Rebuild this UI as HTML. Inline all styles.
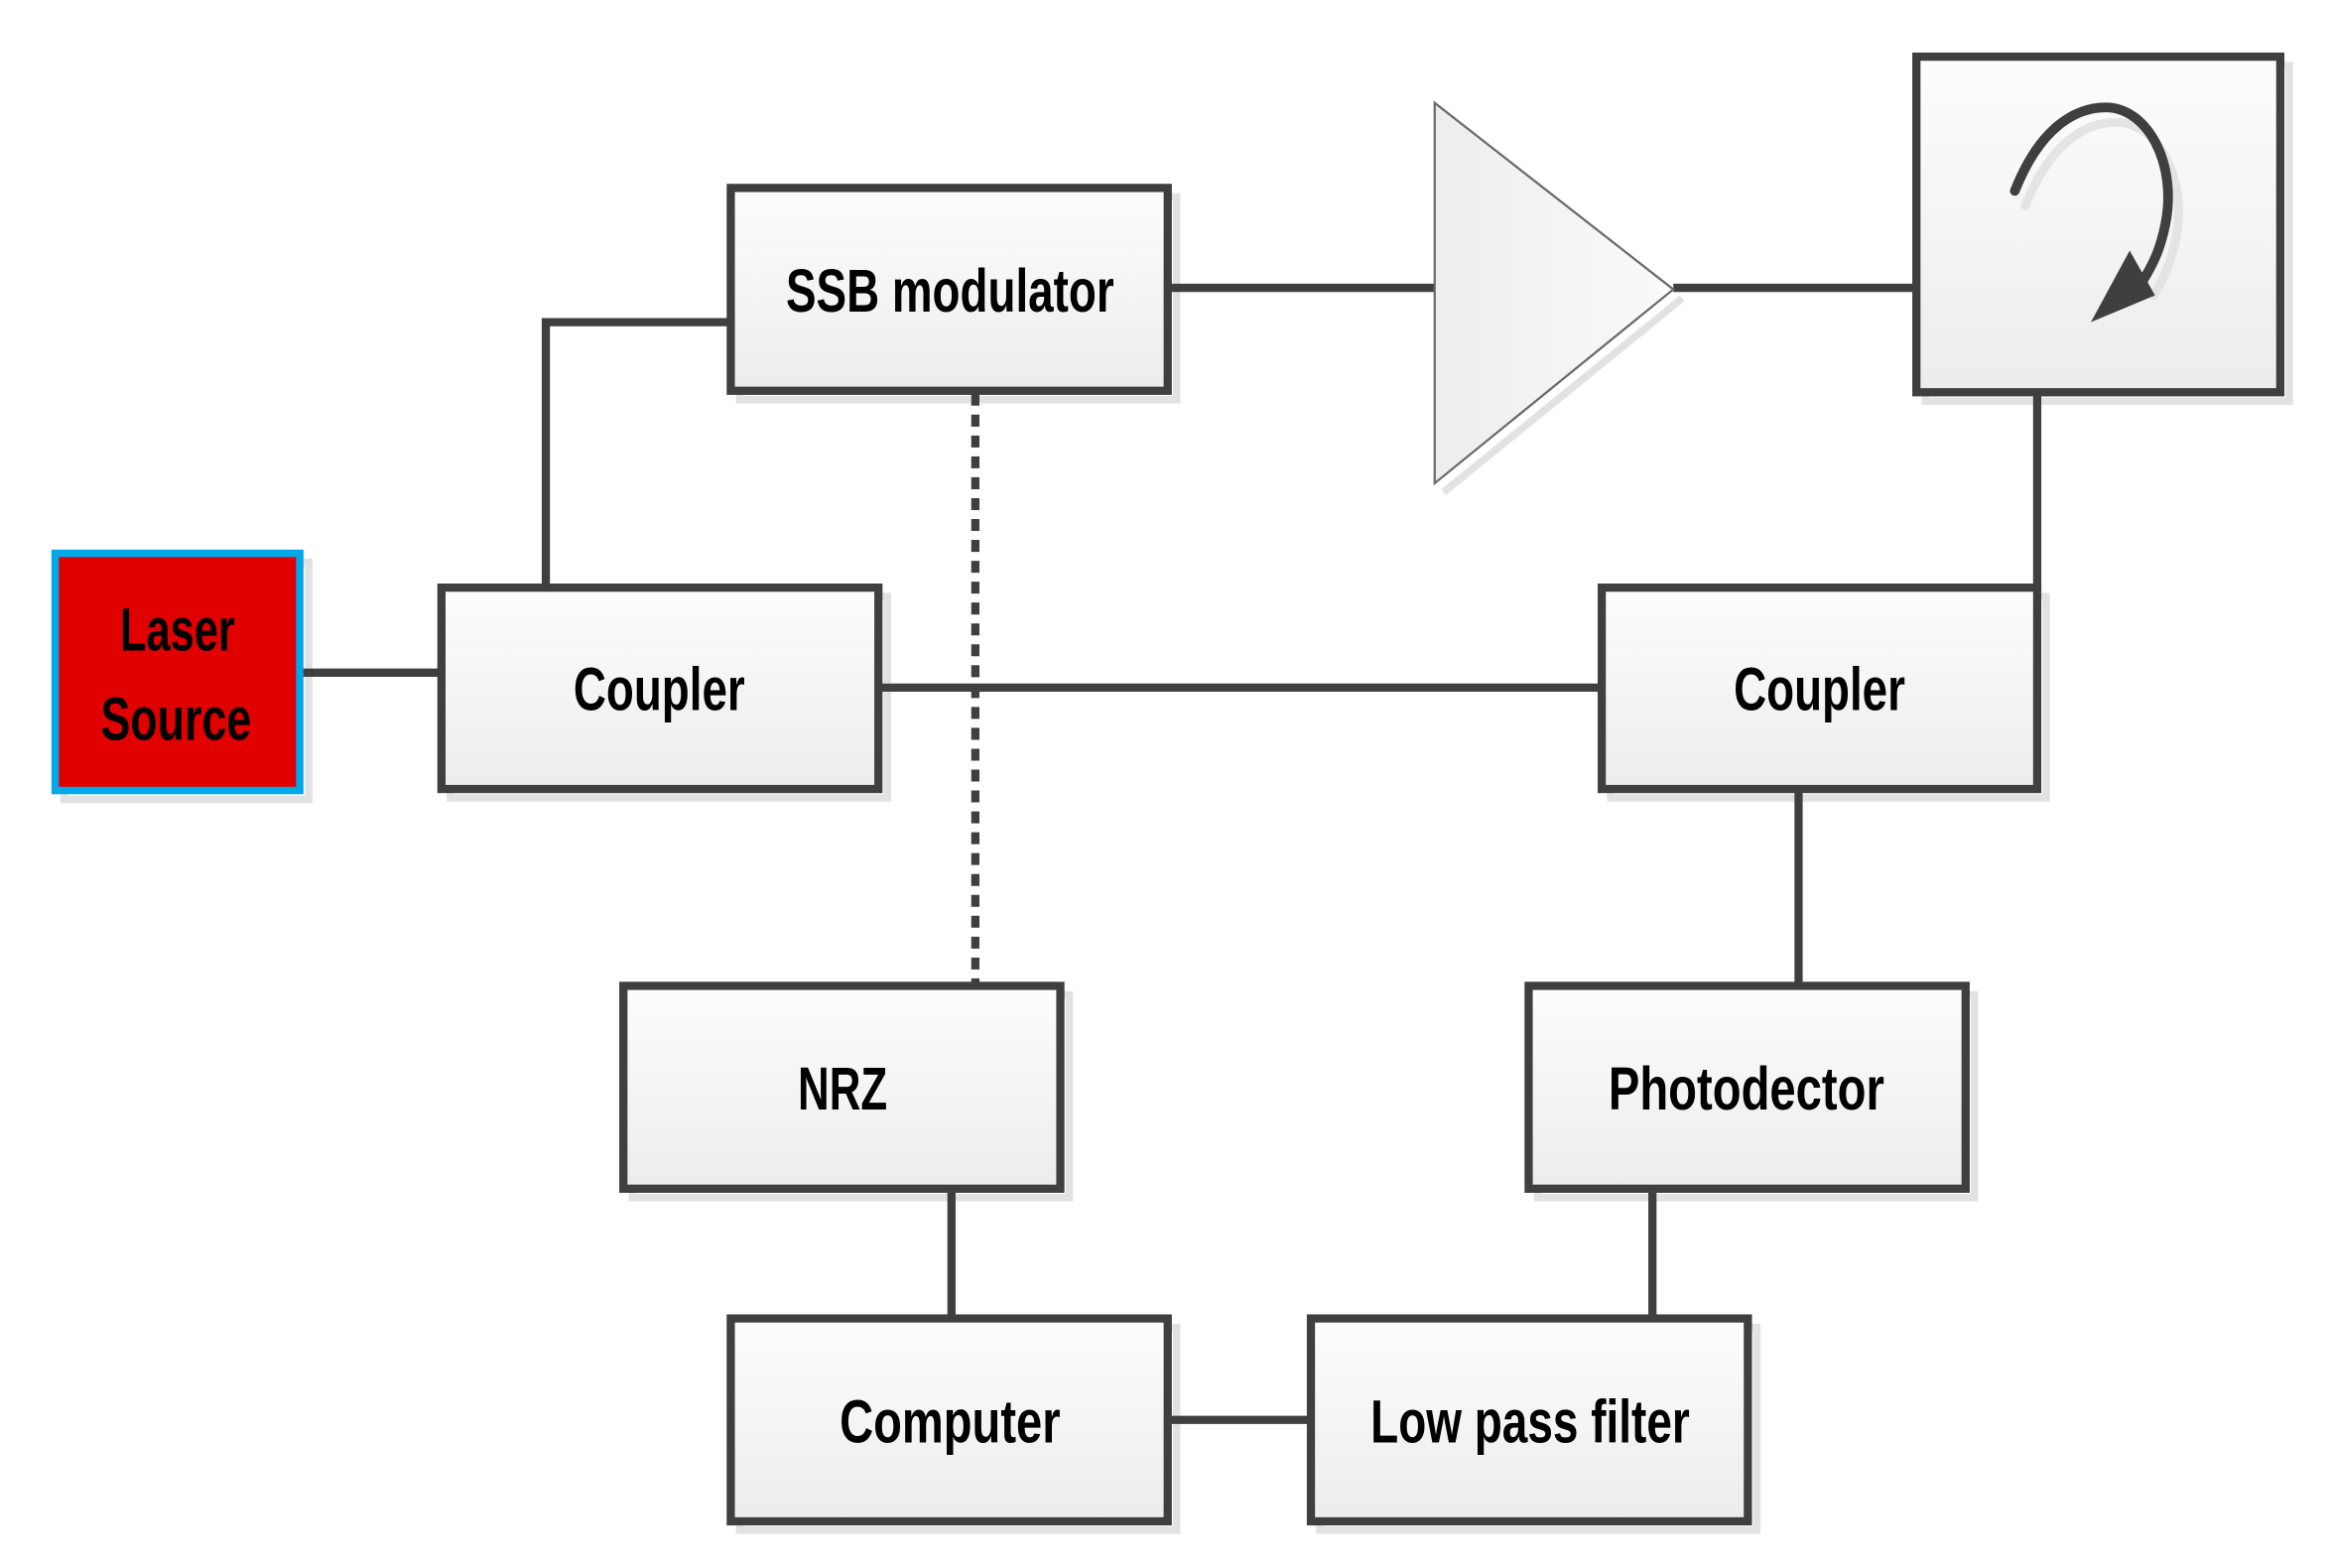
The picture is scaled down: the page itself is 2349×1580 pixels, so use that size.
<!DOCTYPE html>
<html><head><meta charset="utf-8"><style>
html,body{margin:0;padding:0;background:#fff;}
svg{display:block;}
text{font-family:"Liberation Sans Narrow","Liberation Sans",sans-serif;font-weight:bold;font-size:41px;fill:#000;}
</style></head><body>
<svg width="2349" height="1580" viewBox="0 0 1563 1051.3" preserveAspectRatio="none" xmlns="http://www.w3.org/2000/svg">
<defs>
<linearGradient id="g" x1="0" y1="0" x2="0" y2="1"><stop offset="0" stop-color="#fdfdfd"/><stop offset="1" stop-color="#ececec"/></linearGradient>
<linearGradient id="t" x1="0" y1="0" x2="1" y2="0"><stop offset="0" stop-color="#ededed"/><stop offset="1" stop-color="#fafafa"/></linearGradient>
</defs>
<g stroke="#e2e2e2" stroke-width="5" fill="none">
<rect x="43" y="377" width="164" height="159"/>
<rect x="302" y="400" width="293" height="135"/>
<rect x="496" y="132" width="293" height="136"/>
<rect x="1291" y="44" width="244" height="225"/>
<rect x="1080" y="400" width="292" height="135"/>
<rect x="424" y="667" width="293" height="136"/>
<rect x="1031" y="667" width="293" height="136"/>
<rect x="496" y="890" width="293" height="136"/>
<rect x="885" y="890" width="293" height="136"/>
<polyline points="968,330 1128,200"/>
</g>
<g stroke="#3f3f3f" stroke-width="5.5" fill="none">
<line x1="201" y1="451" x2="296" y2="451"/>
<polyline points="366,394 366,216 490,216"/>
<line x1="783" y1="193" x2="962" y2="193"/>
<line x1="1122" y1="193" x2="1285" y2="193"/>
<line x1="1366" y1="263" x2="1366" y2="396"/>
<line x1="589" y1="461" x2="1074" y2="461"/>
<line x1="654" y1="264" x2="654" y2="661" stroke-dasharray="8,6"/>
<line x1="1206" y1="529" x2="1206" y2="661"/>
<line x1="1108" y1="797" x2="1108" y2="884"/>
<line x1="638" y1="797" x2="638" y2="884"/>
<line x1="783" y1="952" x2="879" y2="952"/>
</g>
<rect x="37" y="371" width="164" height="159" fill="#e00000" stroke="#00a8e8" stroke-width="5"/>
<g stroke="#3f3f3f" stroke-width="5.5" fill="url(#g)">
<rect x="296" y="394" width="293" height="135"/>
<rect x="490" y="126" width="293" height="136"/>
<rect x="1285" y="38" width="244" height="225"/>
<rect x="1074" y="394" width="292" height="135"/>
<rect x="418" y="661" width="293" height="136"/>
<rect x="1025" y="661" width="293" height="136"/>
<rect x="490" y="884" width="293" height="136"/>
<rect x="879" y="884" width="293" height="136"/>
</g>
<polygon points="962,69 1122,194 962,324" fill="url(#t)" stroke="#6a6a6a" stroke-width="1.5"/>
<path d="M1414,145 C1428,90 1410,74 1400,74" stroke="none" fill="none"/>
<path d="M1351,128 C1368,85 1392,72 1412,72 C1440,72 1460,110 1452,150 C1449,165 1445,175 1437,188" stroke="#e4e4e4" stroke-width="6" fill="none" stroke-linecap="round" transform="translate(7,10)"/>
<path d="M1351,128 C1368,85 1392,72 1412,72 C1440,72 1460,110 1452,150 C1449,165 1445,175 1437,188" stroke="#3f3f3f" stroke-width="6.5" fill="none" stroke-linecap="round"/>
<polygon points="1402,216 1445,198 1428,168" fill="#3f3f3f"/>
<text x="119" y="436" text-anchor="middle" textLength="77" lengthAdjust="spacingAndGlyphs">Laser</text>
<text x="118" y="496" text-anchor="middle" textLength="101" lengthAdjust="spacingAndGlyphs">Source</text>
<text x="442" y="476" text-anchor="middle" textLength="115" lengthAdjust="spacingAndGlyphs">Coupler</text>
<text x="637" y="209" text-anchor="middle" textLength="220" lengthAdjust="spacingAndGlyphs">SSB modulator</text>
<text x="1220" y="476" text-anchor="middle" textLength="115" lengthAdjust="spacingAndGlyphs">Coupler</text>
<text x="565" y="744" text-anchor="middle" textLength="60" lengthAdjust="spacingAndGlyphs">NRZ</text>
<text x="1171" y="744" text-anchor="middle" textLength="185" lengthAdjust="spacingAndGlyphs">Photodector</text>
<text x="637" y="967" text-anchor="middle" textLength="148" lengthAdjust="spacingAndGlyphs">Computer</text>
<text x="1026" y="967" text-anchor="middle" textLength="214" lengthAdjust="spacingAndGlyphs">Low pass filter</text>
</svg>
</body></html>
